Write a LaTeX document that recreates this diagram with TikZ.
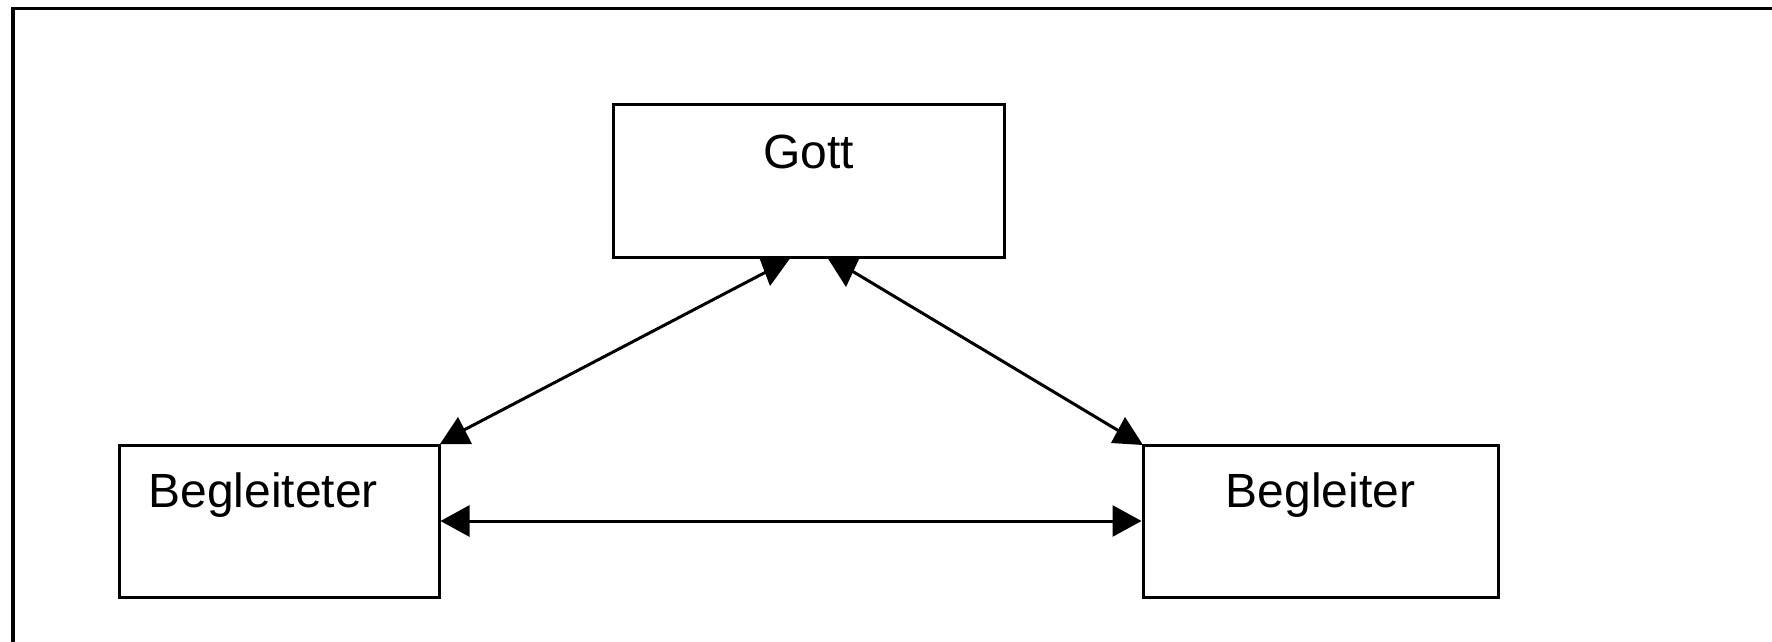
\documentclass[tikz,border=0pt]{standalone}
\usepackage{fontspec}
\setmainfont{Liberation Sans}
\usetikzlibrary{arrows.meta}
\tikzset{
  box/.style={draw=black, line width=1.5pt, rectangle, inner sep=0pt, minimum height=76pt},
  lbl/.style={inner sep=0pt, font=\fontsize{24pt}{28pt}\selectfont},
  conn/.style={draw=black, line width=1.5pt},
  head/.style={fill=black, draw=none},
  frame/.style={draw=black, line width=1.7pt},
  tri/.style={{Triangle[length=14.5pt,width=15.5pt]}-{Triangle[length=14.5pt,width=15.5pt]}}
}
\begin{document}
\begin{tikzpicture}[x=0.5pt,y=-0.5pt]
\useasboundingbox (0,0) rectangle (1772,642);
\fill[white] (0,0) rectangle (1772,642);
\draw[frame] (13,645) -- (13,8.5) -- (1775,8.5);
% boxes
\node[box, minimum width=195.5pt] (gott) at (808.5,181) {};
\node[box, minimum width=160pt] (bl) at (279,521) {};
\node[box, minimum width=177.5pt] (br) at (1320.5,521) {};
% labels
\node[lbl, anchor=base] (gottT) at (808.5,169) {Gott};
\node[lbl, anchor=base west] (blT) at (148,507) {Begleiteter};
\node[lbl, anchor=base] (brT) at (1320.5,507) {Begleiter};
% horizontal double arrow
\draw[conn, tri] (bl.east) -- (br.west);
% diagonal connectors
\coordinate (g1) at (766,272);
\coordinate (b1) at (462,431);
\coordinate (g2) at (852,271);
\coordinate (b2) at (1119,431);
\draw[conn] (g1) -- (b1);
\draw[conn] (g2) -- (b2);
% arrowheads as drawn in the reference
\fill[head] (759,257) -- (791,257) -- (770,286) -- cycle;
\fill[head] (440,444) -- (472,444) -- (458,417) -- cycle;
\fill[head] (827,257) -- (860,257) -- (846,287) -- cycle;
\fill[head] (1111,443) -- (1143,445) -- (1125,417) -- cycle;
\end{tikzpicture}
\end{document}
